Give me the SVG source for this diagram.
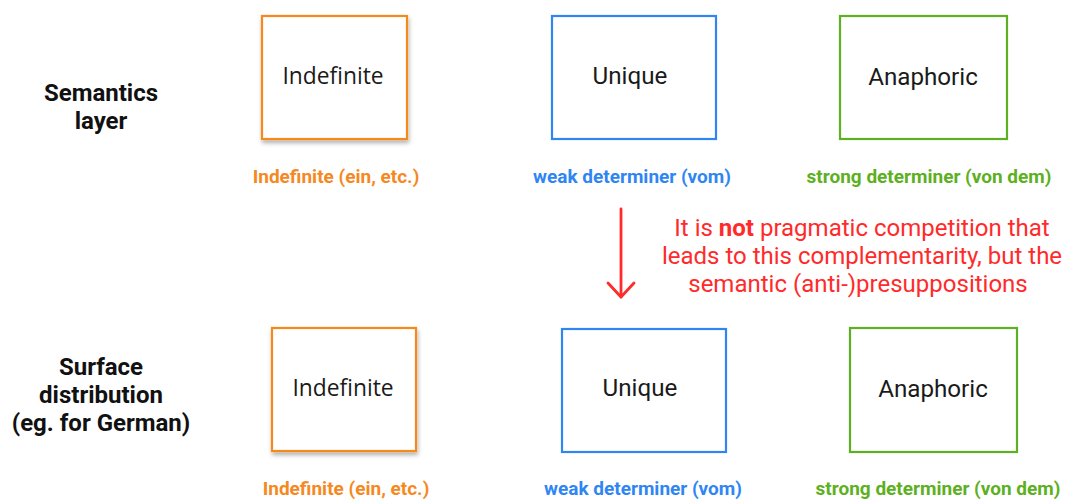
<svg xmlns="http://www.w3.org/2000/svg" width="1068" height="500" viewBox="0 0 1068 500">
<defs>
<filter id="sh" x="-10%" y="-10%" width="125%" height="125%">
<feDropShadow dx="1" dy="3" stdDeviation="2" flood-color="#000" flood-opacity="0.3"/>
</filter>
</defs>
<style>
.box{fill:#fff;stroke-width:2.2}
.or{stroke:#f5891f}
.bl{stroke:#2f86f3}
.gr{stroke:#5cb021}
.bt{font-family:Roboto,"Liberation Sans",sans-serif;font-size:24.2px;fill:#1a1a1a;text-anchor:middle}
.bi{font-family:"Open Sans",Roboto,sans-serif;font-size:22.8px}
.lb{font-family:Roboto,"Liberation Sans",sans-serif;font-size:19px;font-weight:bold;text-anchor:middle}
.lo{fill:#f5891f}.lbl{fill:#2f86f3}.lg{fill:#5cb021}
.side{font-family:Roboto,"Liberation Sans",sans-serif;font-size:24px;font-weight:bold;fill:#111;text-anchor:middle}
.note{font-family:Roboto,"Liberation Sans",sans-serif;font-size:24px;fill:#ff2a2a;text-anchor:middle}
</style>
<rect width="1068" height="500" fill="#fff"/>
<g id="side-labels">
<text class="side" x="101" y="101">Semantics</text>
<text class="side" x="101" y="129">layer</text>
<text class="side" x="101" y="375">Surface</text>
<text class="side" x="101" y="403">distribution</text>
<text class="side" x="101" y="431">(eg. for German)</text>
</g>
<g id="sem-indefinite">
<rect class="box or" x="262" y="16" width="145" height="123" filter="url(#sh)"/>
<text class="bt bi" x="333" y="84">Indefinite</text>
<text class="lb lo" x="336" y="183">Indefinite (ein, etc.)</text>
</g>
<g id="sem-unique">
<rect class="box bl" x="552" y="16" width="164" height="123"/>
<text class="bt" x="630" y="84">Unique</text>
<text class="lb lbl" x="632" y="183">weak determiner (vom)</text>
</g>
<g id="sem-anaphoric">
<rect class="box gr" x="840" y="16" width="167" height="123"/>
<text class="bt" x="923" y="85">Anaphoric</text>
<text class="lb lg" x="929" y="183">strong determiner (von dem)</text>
</g>
<g id="surf-indefinite">
<rect class="box or" x="272" y="328" width="144" height="123" filter="url(#sh)"/>
<text class="bt bi" x="343" y="396">Indefinite</text>
<text class="lb lo" x="346" y="495">Indefinite (ein, etc.)</text>
</g>
<g id="surf-unique">
<rect class="box bl" x="562" y="329" width="164" height="123"/>
<text class="bt" x="640" y="396">Unique</text>
<text class="lb lbl" x="643" y="495">weak determiner (vom)</text>
</g>
<g id="surf-anaphoric">
<rect class="box gr" x="850" y="328" width="167" height="124"/>
<text class="bt" x="933" y="397">Anaphoric</text>
<text class="lb lg" x="938" y="495">strong determiner (von dem)</text>
</g>
<g id="connectors" fill="none" stroke="#ff2a2a" stroke-width="2.8" stroke-linecap="round" stroke-linejoin="round">
<line x1="621" y1="209" x2="621" y2="297"/>
<polyline points="608,283 621,297 634,283"/>
</g>
<g id="note">
<text class="note" x="862" y="236">It is <tspan font-weight="bold">not</tspan> pragmatic competition that</text>
<text class="note" x="862" y="264">leads to this complementarity, but the</text>
<text class="note" x="858" y="292">semantic (anti-)presuppositions</text>
</g>
</svg>
